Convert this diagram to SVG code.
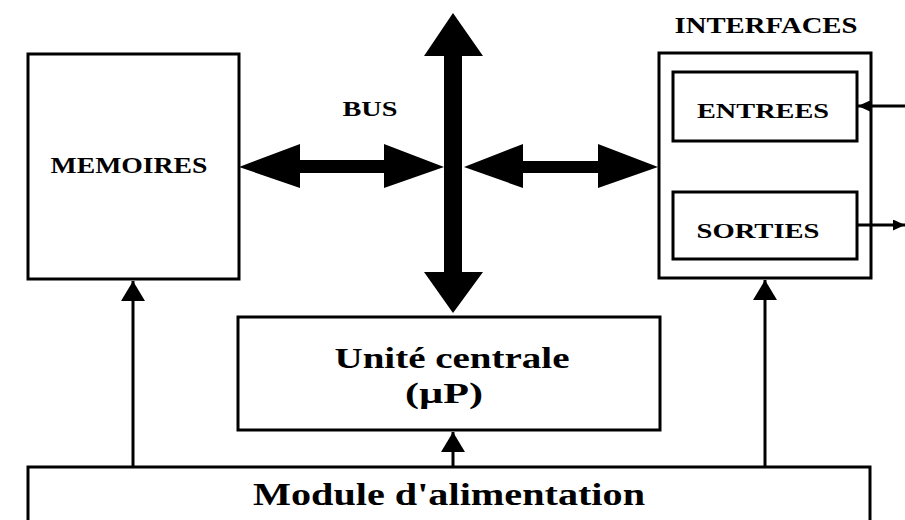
<svg xmlns="http://www.w3.org/2000/svg" width="905" height="520" viewBox="0 0 905 520">
  <defs>
    <marker id="tip" viewBox="0 0 10 10" refX="10" refY="5" markerWidth="12" markerHeight="11" markerUnits="userSpaceOnUse" orient="auto" preserveAspectRatio="none">
      <path d="M0,0 L10,5 L0,10 Z" fill="#000"/>
    </marker>
    <marker id="tipBig" viewBox="0 0 10 10" refX="10" refY="5" markerWidth="20" markerHeight="24" markerUnits="userSpaceOnUse" orient="auto" preserveAspectRatio="none">
      <path d="M0,0 L10,5 L0,10 Z" fill="#000"/>
    </marker>
  </defs>
  <style>
    .box { fill: #fff; stroke: #000; stroke-width: 3; }
    .lbl { font-family: "Liberation Serif", "Times New Roman", serif; font-weight: bold; fill: #000; }
    .thin { stroke: #000; stroke-width: 3; fill: none; }
    .bus { fill: #000; stroke: none; }
  </style>
  <rect width="905" height="520" fill="#fff"/>

  <g id="memoires">
    <rect class="box" x="28" y="54" width="211" height="225"/>
    <text class="lbl" x="129" y="173" font-size="23" text-anchor="middle" textLength="157" lengthAdjust="spacingAndGlyphs">MEMOIRES</text>
  </g>

  <g id="interfaces">
    <text class="lbl" x="766" y="33" font-size="23" text-anchor="middle" textLength="183" lengthAdjust="spacingAndGlyphs">INTERFACES</text>
    <rect class="box" x="659" y="53" width="212" height="225"/>
  </g>

  <g id="entrees">
    <rect class="box" x="673" y="72" width="184" height="69"/>
    <text class="lbl" x="763" y="118" font-size="22" text-anchor="middle" textLength="132" lengthAdjust="spacingAndGlyphs">ENTREES</text>
  </g>

  <g id="sorties">
    <rect class="box" x="673" y="192" width="184" height="67"/>
    <text class="lbl" x="758" y="238" font-size="22" text-anchor="middle" textLength="123" lengthAdjust="spacingAndGlyphs">SORTIES</text>
  </g>

  <g id="unite-centrale">
    <rect class="box" x="238" y="317" width="422" height="113"/>
    <text class="lbl" x="452" y="368" font-size="30" text-anchor="middle" textLength="235" lengthAdjust="spacingAndGlyphs">Unité centrale</text>
    <text class="lbl" x="444" y="403" font-size="30" text-anchor="middle" textLength="78" lengthAdjust="spacingAndGlyphs">(µP)</text>
  </g>

  <g id="alimentation">
    <rect class="box" x="28" y="467" width="842" height="70"/>
    <text class="lbl" x="449" y="505" font-size="31" text-anchor="middle" textLength="392" lengthAdjust="spacingAndGlyphs">Module d'alimentation</text>
  </g>

  <g id="bus-label">
    <text class="lbl" x="370" y="116" font-size="21" text-anchor="middle" textLength="55" lengthAdjust="spacingAndGlyphs">BUS</text>
  </g>

  <g id="connectors">
    <!-- vertical bus: double-headed thick arrow -->
    <path class="bus" d="M453,13 L483,56 L462,56 L462,272 L483,272 L453,313 L424,272 L444,272 L444,56 L424,56 Z"/>
    <!-- bus to MEMOIRES -->
    <path class="bus" d="M239,167 L300,144 L300,160 L384,160 L384,144 L444,167 L384,188 L384,173 L300,173 L300,188 Z"/>
    <!-- bus to INTERFACES -->
    <path class="bus" d="M464,167 L523,144 L523,161 L598,161 L598,144 L658,167 L598,188 L598,173 L523,173 L523,188 Z"/>

    <!-- power supply lines -->
    <line class="thin" x1="133" y1="467" x2="133" y2="281" marker-end="url(#tipBig)"/>
    <line class="thin" x1="453" y1="467" x2="453" y2="432" marker-end="url(#tipBig)"/>
    <line class="thin" x1="765" y1="467" x2="765" y2="280" marker-end="url(#tipBig)"/>

    <!-- external input / output -->
    <line class="thin" x1="905" y1="106" x2="858" y2="106" stroke-width="2.5" marker-end="url(#tip)"/>
    <line class="thin" x1="857" y1="225" x2="905" y2="225" stroke-width="2.5" marker-end="url(#tip)"/>
  </g>
</svg>
